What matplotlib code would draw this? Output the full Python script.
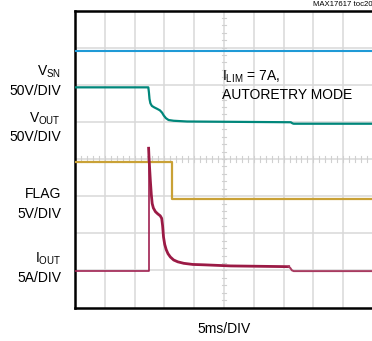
import numpy as np
import matplotlib.pyplot as plt

plt.rcParams['font.family'] = ['Liberation Sans', 'DejaVu Sans']
plt.rcParams['mathtext.fontset'] = 'custom'
plt.rcParams['mathtext.rm'] = 'Liberation Sans'

# traces in scope divisions (x: 10 div of 5ms, y: 8 div)
vsn_t = [0, 10]
vsn_v = [6.92, 6.92]

vout_t = [0, 2.46, 2.48, 2.50, 2.53, 2.58, 2.66, 2.76, 2.85, 2.92, 2.98, 3.05,
          3.14, 3.31, 3.76, 7.24, 7.30, 7.34, 10]
vout_v = [5.93, 5.93, 5.80, 5.62, 5.50, 5.43, 5.39, 5.35, 5.31, 5.25, 5.17, 5.10,
          5.05, 5.03, 5.01, 4.99, 4.96, 4.95, 4.95]

flag_t = [0, 3.26, 3.26, 10]
flag_v = [3.93, 3.93, 2.92, 2.92]

iout_t = [0, 2.47, 2.47, 2.48, 2.50, 2.53, 2.56, 2.59, 2.63, 2.70, 2.78, 2.86,
          2.91, 2.94, 2.97, 3.01, 3.06, 3.12, 3.20, 3.31, 3.45, 3.65, 3.95,
          4.32, 5.22, 7.17, 7.22, 7.28, 7.34, 10]
iout_v = [0.98, 0.98, 4.29, 4.10, 3.80, 3.40, 3.05, 2.80, 2.68, 2.58, 2.52, 2.47,
          2.40, 2.20, 1.90, 1.70, 1.56, 1.45, 1.36, 1.28, 1.23, 1.19, 1.16,
          1.15, 1.12, 1.10, 1.07, 1.00, 0.98, 0.98]

labels = [(r'$\mathregular{V_{SN}}$', 72), ('50V/DIV', 91),
          (r'$\mathregular{V_{OUT}}$', 119), ('50V/DIV', 137),
          ('FLAG', 194), ('5V/DIV', 214),
          (r'$\mathregular{I_{OUT}}$', 259), ('5A/DIV', 278)]

fig = plt.figure(figsize=(3.72, 3.41), dpi=100)
ax = fig.add_axes([75 / 372, 33.5 / 341, 298 / 372, 297 / 341])
ax.set_xlim(0, 10)
ax.set_ylim(0, 8)

# grid
for gx in range(1, 10):
    ax.axvline(gx, color='#d9d9d9', lw=1.1, zorder=1)
for gy in range(1, 8):
    ax.axhline(gy, color='#d9d9d9', lw=1.1, zorder=1)
# minor ticks on center lines
for m in np.arange(0.2, 10, 0.2):
    ax.plot([m, m], [3.93, 4.07], color='#d0d0d0', lw=0.8, zorder=1)
for m in np.arange(0.2, 8, 0.2):
    ax.plot([4.93, 5.07], [m, m], color='#d0d0d0', lw=0.8, zorder=1)

ax.plot(vsn_t, vsn_v, color='#1f9ad6', lw=1.5, zorder=3)
ax.plot(vout_t, vout_v, color='#00877b', lw=1.6, zorder=3)
ax.plot(flag_t, flag_v, color='#c9a136', lw=1.6, zorder=3)
ax.plot(iout_t[:3], iout_v[:3], color='#a02050', lw=1.2, zorder=4)
ax.plot(iout_t[2:-4], iout_v[2:-4], color='#9b1a45', lw=2.0, zorder=4)
ax.plot(iout_t[-5:], iout_v[-5:], color='#a83a60', lw=1.4, zorder=4)

ax.set_xticks([])
ax.set_yticks([])
for s in ['left', 'top', 'bottom']:
    ax.spines[s].set_linewidth(1.8)
ax.spines['right'].set_visible(False)

for txt, py in labels:
    fig.text(61 / 372, 1 - py / 341, txt, ha='right', va='center', fontsize=10)

fig.text(222 / 372, 1 - 77 / 341, r'$\mathregular{I_{LIM}}$ = 7A,', ha='left', va='center', fontsize=10)
fig.text(222 / 372, 1 - 95 / 341, 'AUTORETRY MODE', ha='left', va='center', fontsize=10)
fig.text(224 / 372, 1 - 329 / 341, '5ms/DIV', ha='center', va='center', fontsize=10)
fig.text(313 / 372, 1 - 5 / 341, 'MAX17617 toc20', ha='left', va='center', fontsize=5.6)

fig.savefig('out.png', dpi=100)
